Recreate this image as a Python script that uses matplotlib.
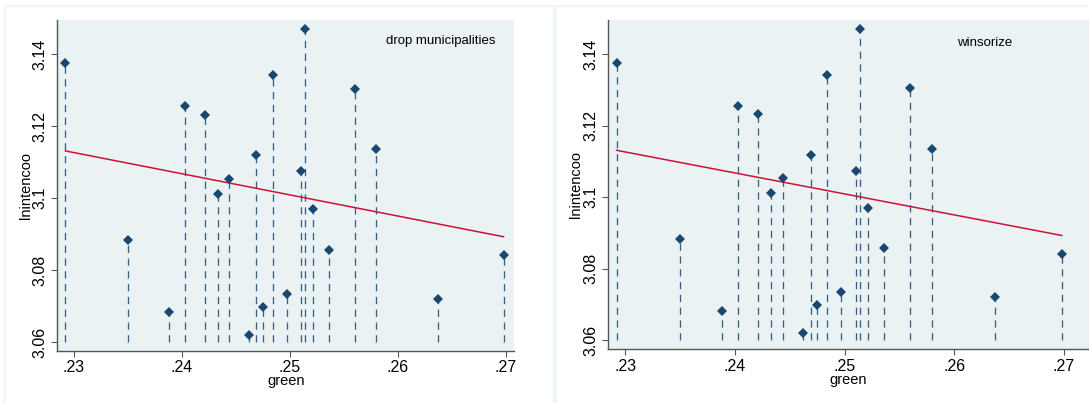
import numpy as np
import matplotlib
matplotlib.use("Agg")
import matplotlib.pyplot as plt
from matplotlib.patches import Rectangle

plt.rcParams["font.family"] = ["Liberation Sans", "DejaVu Sans"]

# data (same points in both)
green = [0.2292, 0.2350, 0.2388, 0.2403, 0.2421, 0.2433, 0.2444, 0.2462, 0.2469, 0.2475,
         0.2484, 0.2497, 0.2510, 0.2514, 0.2521, 0.2536, 0.2560, 0.2580, 0.2637, 0.2698]
lnintencoo = [3.1374, 3.0883, 3.0683, 3.1255, 3.1231, 3.1011, 3.1053, 3.0620, 3.1119, 3.0698,
              3.1341, 3.0734, 3.1074, 3.1470, 3.0969, 3.0857, 3.1304, 3.1135, 3.0720, 3.0841]
# fitted line (lfit) end points
fit_x = [0.2292, 0.2698]
fit_y = [3.1131, 3.0893]
panel_titles = ["drop municipalities", "winsorize"]
xticks = [0.23, 0.24, 0.25, 0.26, 0.27]
xticklabels = [".23", ".24", ".25", ".26", ".27"]
yticks = [3.06, 3.08, 3.10, 3.12, 3.14]
yticklabels = ["3.06", "3.08", "3.1", "3.12", "3.14"]
base = 3.06

bg = "#eaf2f3"
navy = "#1a476f"
red = "#d0103a"

fig = plt.figure(figsize=(10.89, 4.03), dpi=100)
fig.patch.set_facecolor("white")

# faint outer frames of the two graphs
fig.patches.append(Rectangle((5 / 1089, -0.01), 549 / 1089, 1 - 6 / 403 + 0.01,
                             transform=fig.transFigure, fill=False, ec="#edf3f5", lw=1.2))
fig.patches.append(Rectangle((556 / 1089, -0.01), 540 / 1089, 1 - 6 / 403 + 0.01,
                             transform=fig.transFigure, fill=False, ec="#edf3f5", lw=1.2))

rects = [[57.3 / 1089, 1 - 350.7 / 403, (514 - 57.3) / 1089, (350.7 - 20) / 403],
         [608 / 1089, 1 - 349.3 / 403, (1089 - 608) / 1089, (349.3 - 20) / 403]]
xlims = [(0.22845, 0.27077), (0.22842, 0.27228)]
ylims = [(3.0577, 3.1494), (3.0575, 3.1495)]
text_pos = [(440.8, 41), (985, 42.7)]

for i in range(2):
    ax = fig.add_axes(rects[i])
    ax.set_facecolor(bg)
    ax.vlines(green, base, lnintencoo, colors=navy, linewidth=0.95, alpha=0.85,
              linestyles=(0, (5.5, 4.2)))
    ax.plot(fit_x, fit_y, color=red, linewidth=1.1)
    ax.plot(green, lnintencoo, linestyle="none", marker="D", markersize=5,
            color=navy, markeredgewidth=0)
    ax.set_xlim(*xlims[i])
    ax.set_ylim(*ylims[i])
    ax.set_xticks(xticks)
    ax.set_xticklabels(xticklabels, fontsize=11.5)
    ax.set_yticks(yticks)
    ax.set_yticklabels(yticklabels, fontsize=11.5, rotation=90, va="center")
    ax.tick_params(direction="out", length=4, width=0.8, color="#555555", pad=3)
    for s in ["top", "right"]:
        ax.spines[s].set_visible(False)
    for s in ["left", "bottom"]:
        ax.spines[s].set_color("#555555")
        ax.spines[s].set_linewidth(1.0)
    ax.set_xlabel("green", fontsize=10.5, labelpad=-1)
    ax.set_ylabel("lnintencoo", fontsize=10.5, labelpad=0)
    tx, ty = text_pos[i]
    fig.text(tx / 1089, 1 - ty / 403, panel_titles[i], fontsize=9.5, ha="center", va="center")

fig.savefig("out.png", dpi=100)
